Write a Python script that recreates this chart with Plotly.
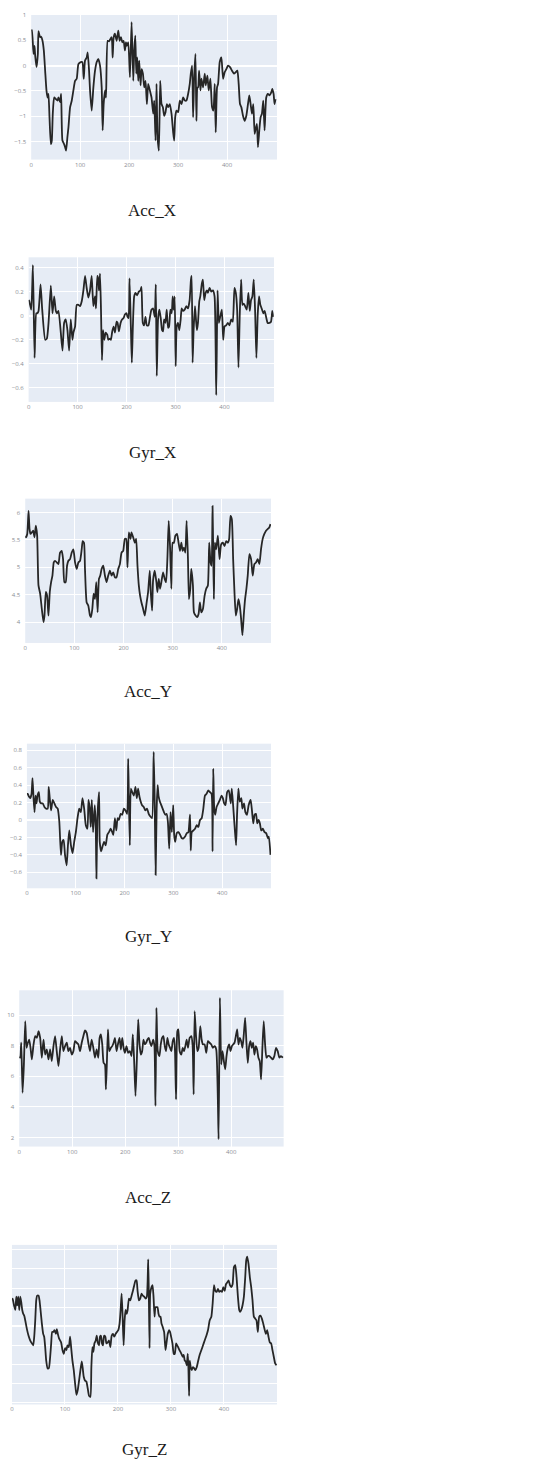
import plotly.graph_objects as go

W, H = 533, 1463

# ---- sensor traces (sample index, value) ----
acc_x_t = [0, 1.4, 4.8, 6.8, 8.1, 10.9, 13.6, 14.9, 18.3, 20.4, 23.1, 25.8, 28.5, 31.2, 33.3, 35.3, 37.4, 40.1, 42.1, 44.1,
           46.9, 50.3, 53.7, 55.7, 59.1, 61.1, 63.8, 67.2, 69.3, 71.3, 74.0, 76.1, 79.5, 82.9, 86.2, 89.6, 93.0, 96.4, 101.2, 104.6,
           107.3, 110.0, 113.4, 115.4, 118.2, 120.2, 123.6, 127.0, 130.4, 133.8, 137.2, 140.6, 144.0, 146.0, 148.0, 150.8, 152.8, 156.2, 158.9, 164.3,
           166.4, 168.4, 171.1, 174.5, 177.9, 180.6, 183.4, 186.1, 188.8, 191.5, 193.5, 195.6, 198.3, 201.7, 205.1, 208.5, 210.5, 212.6, 214.6, 216.6,
           218.7, 220.7, 223.4, 225.5, 228.2, 230.9, 233.6, 236.3, 239.0, 242.4, 245.8, 249.2, 251.3, 254.0, 256.0, 258.1, 260.8, 263.5, 266.2, 268.9,
           271.6, 274.4, 277.1, 279.8, 283.2, 286.6, 290.0, 292.0, 294.1, 296.8, 300.2, 303.6, 307.0, 310.4, 313.8, 317.1, 320.5, 323.9, 326.0, 328.7,
           330.7, 332.8, 335.5, 337.5, 339.6, 340.9, 343.0, 345.7, 347.7, 351.1, 354.5, 356.5, 359.9, 362.6, 366.0, 369.4, 372.2, 374.9, 376.9, 379.6,
           381.7, 385.1, 388.5, 391.9, 395.2, 398.6, 402.0, 406.1, 410.2, 414.3, 417.7, 421.1, 423.8, 426.5, 429.2, 432.6, 436.0, 439.4, 442.8, 445.5,
           448.2, 450.9, 453.7, 456.4, 459.1, 461.1, 463.2, 465.9, 468.6, 471.3, 474.0, 476.7, 480.1, 483.5, 486.9, 490.3, 492.4, 495.1, 497.1, 499]
acc_x_v = [0.69, 0.70, 0.23, 0.39, 0.20, -0.03, 0.23, 0.68, 0.56, 0.57, 0.49, 0.30, -0.10, -0.49, -0.63, -0.56, -1.02, -1.55, -1.48, -0.95,
           -0.63, -0.66, -0.69, -0.63, -0.72, -0.56, -1.48, -1.55, -1.61, -1.68, -1.41, -1.22, -0.82, -0.69, -0.49, -0.30, -0.26, 0.03, 0.07, 0.07,
           -0.26, 0.10, 0.16, 0.26, -0.10, -0.49, -0.89, -0.43, -0.10, 0.07, 0.13, 0.00, -0.43, -1.28, -0.76, -0.49, -0.63, 0.49, 0.48, 0.56,
           0.16, 0.56, 0.63, 0.49, 0.69, 0.49, 0.56, 0.46, 0.49, 0.30, 0.46, 0.39, 0.46, -0.23, 0.86, -0.30, 0.30, 0.59, -0.16, 0.16,
           -0.30, 0.10, -0.39, -0.07, -0.16, -0.43, -0.30, -0.76, -0.36, -0.49, -0.63, -0.95, -0.69, -1.48, -0.36, -1.41, -1.68, -0.30, -0.76, -0.82,
           -0.99, -0.92, -0.76, -0.82, -0.76, -0.95, -1.32, -1.48, -1.02, -0.89, -0.92, -0.69, -0.76, -0.63, -0.69, -0.69, -0.56, -0.36, -0.16, 0.00,
           -1.02, -0.26, 0.23, -1.09, -0.43, -0.43, -0.10, -0.49, -0.26, -0.43, -0.16, -0.39, -0.20, -0.49, -0.26, -0.82, -0.89, -0.36, -1.32, -0.43,
           -0.36, 0.07, 0.16, -0.26, -0.13, -0.07, 0.00, -0.03, -0.10, -0.16, -0.13, -0.10, -0.36, -0.76, -0.82, -0.99, -1.09, -0.99, -0.76, -0.59,
           -0.76, -0.95, -0.76, -1.35, -1.22, -1.15, -1.61, -1.28, -1.02, -0.95, -0.69, -1.28, -0.63, -0.56, -0.59, -0.53, -0.46, -0.56, -0.76, -0.66]

gyr_x_t = [0, 1.4, 5.4, 8.8, 12.2, 15.6, 17.6, 20.3, 24.4, 27.8, 33.9, 37.3, 40.7, 45.4, 48.8, 52.2, 55.6, 57.6, 61.0, 69.2,
           72.5, 75.9, 79.3, 82.7, 86.1, 89.5, 91.5, 94.9, 98.3, 101.7, 105.1, 108.5, 111.9, 115.3, 118.6, 122.0, 125.4, 128.8, 132.2, 135.6,
           137.6, 140.3, 142.4, 143.7, 145.8, 147.8, 149.8, 151.9, 154.6, 157.3, 160.7, 162.7, 166.1, 168.1, 170.8, 173.6, 176.3, 179.7, 181.7, 184.4,
           187.8, 191.2, 193.9, 196.6, 200.0, 202.0, 204.1, 206.1, 208.8, 210.8, 212.9, 215.6, 218.3, 221.7, 225.1, 228.5, 230.5, 233.2, 235.9, 238.6,
           241.4, 244.7, 247.5, 250.8, 254.2, 257.6, 259.7, 261.7, 264.4, 267.1, 269.8, 272.5, 274.6, 276.6, 279.3, 282.0, 284.7, 286.8, 289.5, 292.2,
           294.2, 296.3, 298.3, 300.3, 302.4, 305.1, 307.8, 310.5, 312.5, 315.3, 318.6, 322.0, 325.4, 328.8, 331.5, 332.9, 334.9, 336.9, 339.7, 341.7,
           343.7, 345.8, 348.5, 350.5, 353.9, 355.9, 358.6, 361.4, 364.1, 366.1, 369.5, 372.9, 376.3, 379.7, 383.1, 385.8, 388.5, 391.2, 394.6, 397.3,
           400.0, 403.4, 406.8, 410.2, 413.6, 416.9, 420.3, 423.1, 425.8, 428.5, 431.2, 433.9, 436.6, 439.3, 442.0, 445.4, 448.8, 451.5, 454.2, 456.9,
           459.7, 462.4, 465.1, 467.8, 470.5, 473.2, 475.9, 479.3, 482.0, 485.4, 488.1, 491.5, 494.9, 497.6, 499]
gyr_x_v = [0.13, 0.12, 0.05, 0.42, -0.35, 0.02, 0.02, 0.04, 0.26, 0.05, -0.20, -0.19, -0.06, 0.25, 0.02, 0.16, 0.04, 0.02, 0.04, -0.29,
           -0.06, -0.03, -0.12, -0.29, -0.03, -0.20, -0.14, -0.09, 0.09, 0.09, 0.08, 0.12, 0.21, 0.33, 0.23, 0.15, 0.21, 0.33, 0.08, 0.16,
           0.06, 0.33, 0.30, 0.21, 0.35, 0.05, -0.37, -0.12, -0.20, -0.14, -0.16, -0.20, -0.19, -0.20, -0.13, -0.09, -0.14, -0.05, -0.06, -0.13,
           -0.06, -0.03, -0.02, 0.01, 0.02, -0.01, -0.02, 0.31, -0.09, -0.39, -0.09, 0.16, 0.19, 0.17, 0.20, 0.21, 0.24, -0.06, -0.08, -0.01,
           -0.08, -0.08, -0.02, 0.05, 0.06, -0.01, 0.26, -0.50, -0.02, 0.05, -0.02, -0.12, -0.13, -0.03, -0.06, 0.05, -0.10, -0.09, 0.05, 0.02,
           0.16, 0.05, 0.16, -0.42, -0.09, -0.06, -0.12, -0.03, 0.06, 0.04, 0.05, 0.08, 0.06, 0.13, 0.30, 0.33, -0.39, -0.12, 0.08, -0.03,
           -0.12, -0.06, 0.12, 0.16, 0.27, 0.30, 0.13, 0.19, 0.21, 0.19, 0.23, 0.20, 0.21, 0.16, -0.66, 0.21, -0.06, -0.01, 0.05, -0.20,
           -0.09, -0.08, -0.06, -0.08, -0.03, -0.05, 0.23, 0.19, 0.05, -0.43, 0.02, 0.30, 0.09, 0.10, 0.08, 0.05, 0.19, 0.04, 0.13, 0.16,
           0.30, 0.05, -0.35, 0.01, 0.16, 0.09, 0.06, 0.02, 0.04, -0.02, -0.06, -0.06, -0.05, 0.04, -0.01]

acc_y_t = [0, 1.4, 4.1, 6.8, 8.8, 10.8, 13.5, 16.2, 18.9, 21.6, 24.3, 27.0, 30.4, 33.8, 37.2, 39.2, 41.9, 44.6, 47.3, 50.0,
           52.7, 55.4, 58.1, 60.8, 64.2, 67.6, 70.9, 74.3, 77.0, 79.7, 82.4, 85.1, 87.8, 91.2, 94.6, 98.0, 101.4, 104.7, 108.1, 111.5,
           114.9, 116.9, 119.6, 121.6, 125.0, 128.4, 131.8, 133.8, 136.5, 139.2, 141.9, 144.6, 147.3, 150.0, 152.7, 155.4, 158.8, 162.2, 165.5, 168.9,
           172.3, 175.7, 179.1, 182.4, 185.8, 189.2, 192.6, 196.0, 199.3, 202.7, 205.4, 208.1, 210.8, 214.2, 216.2, 219.6, 223.0, 225.7, 228.4, 231.1,
           233.8, 236.5, 239.9, 243.2, 246.6, 250.0, 253.4, 255.4, 258.1, 260.1, 263.5, 266.9, 268.9, 271.6, 274.3, 277.0, 280.4, 283.8, 286.5, 289.2,
           291.9, 294.6, 297.3, 300.0, 302.7, 305.4, 308.8, 311.5, 314.9, 317.6, 320.3, 323.0, 325.7, 328.4, 331.1, 333.1, 335.8, 337.8, 341.2, 343.2,
           346.6, 350.0, 352.7, 355.4, 358.1, 361.5, 364.9, 368.2, 371.6, 374.3, 377.0, 379.1, 381.1, 382.4, 383.8, 385.8, 388.5, 391.9, 395.3, 398.6,
           402.0, 405.4, 408.8, 412.2, 414.9, 417.6, 420.3, 423.0, 425.7, 428.4, 431.1, 433.8, 436.5, 439.2, 441.9, 444.6, 447.3, 450.0, 452.7, 456.1,
           459.5, 462.8, 466.2, 469.6, 473.0, 476.4, 479.7, 483.1, 486.5, 489.9, 493.2, 496.6, 499]
acc_y_v = [5.57, 5.55, 5.61, 6.03, 5.70, 5.61, 5.64, 5.67, 5.55, 5.76, 5.58, 4.67, 4.52, 4.24, 4.00, 4.12, 4.55, 4.48, 4.12, 4.55,
           4.73, 4.85, 5.09, 5.12, 5.09, 5.06, 5.27, 5.30, 5.15, 4.73, 4.73, 5.03, 5.12, 5.15, 5.27, 5.33, 5.09, 4.97, 5.09, 5.12,
           5.33, 5.48, 5.45, 4.97, 4.36, 4.30, 4.12, 4.09, 4.24, 4.52, 4.42, 4.73, 4.18, 4.79, 4.85, 4.97, 5.03, 4.85, 4.73, 4.85,
           4.94, 4.85, 4.91, 4.82, 4.82, 4.97, 5.06, 5.27, 5.30, 5.52, 5.52, 5.00, 5.64, 5.52, 5.64, 5.55, 5.45, 5.52, 5.03, 4.67,
           4.48, 4.36, 4.24, 4.12, 4.33, 4.55, 4.94, 4.55, 4.21, 4.76, 4.94, 4.73, 4.55, 4.79, 4.61, 4.73, 4.91, 4.79, 4.73, 5.15,
           5.85, 5.39, 4.61, 5.45, 5.45, 5.58, 5.61, 5.48, 5.30, 5.45, 5.30, 5.36, 5.27, 5.85, 5.15, 4.42, 4.61, 4.97, 4.67, 4.18,
           4.12, 4.09, 4.15, 4.36, 4.18, 4.24, 4.48, 4.61, 4.67, 5.45, 5.09, 5.03, 6.12, 5.33, 4.42, 5.45, 5.33, 5.58, 5.15, 5.42,
           5.45, 5.39, 5.48, 5.45, 5.52, 5.94, 5.88, 5.15, 4.55, 4.12, 4.24, 4.42, 4.30, 4.06, 3.76, 4.12, 4.42, 4.61, 4.85, 5.24,
           5.15, 4.85, 5.06, 5.09, 5.15, 5.06, 5.33, 5.52, 5.61, 5.67, 5.70, 5.73, 5.79]

gyr_y_t = [0, 1.4, 4.1, 6.8, 9.5, 11.5, 13.6, 15.6, 17.6, 19.7, 21.7, 24.4, 26.4, 29.2, 32.5, 35.9, 39.3, 42.7, 44.7, 46.8,
           49.5, 52.9, 56.3, 59.7, 63.1, 66.4, 69.8, 72.5, 75.3, 78.0, 81.4, 84.1, 86.8, 90.2, 93.6, 96.9, 100.3, 103.7, 107.1, 110.5,
           113.9, 117.3, 120.7, 124.1, 126.1, 128.8, 130.8, 132.9, 135.6, 139.0, 141.0, 142.4, 144.4, 147.8, 149.2, 151.9, 154.6, 158.0, 161.4, 164.7,
           168.1, 171.5, 174.9, 177.0, 180.3, 183.1, 185.8, 188.5, 191.9, 195.3, 198.6, 202.0, 205.4, 207.5, 208.8, 210.8, 212.9, 215.6, 219.0, 222.4,
           225.1, 227.8, 230.5, 233.2, 235.9, 239.3, 242.7, 246.1, 249.5, 252.9, 256.3, 259.7, 261.7, 263.7, 265.8, 267.8, 269.8, 272.5, 275.3, 278.0,
           280.7, 283.4, 286.1, 288.8, 291.5, 294.2, 296.9, 299.7, 301.7, 303.7, 307.1, 310.5, 313.9, 317.3, 320.7, 324.1, 327.5, 330.8, 332.9, 334.2,
           335.6, 337.6, 341.0, 344.4, 347.8, 351.2, 354.6, 358.0, 361.4, 364.7, 368.1, 371.5, 374.9, 378.3, 380.3, 381.7, 383.7, 385.8, 388.5, 391.9,
           395.3, 398.6, 401.4, 404.1, 406.8, 410.2, 413.6, 417.6, 419.7, 422.4, 425.8, 428.5, 430.5, 433.2, 436.0, 439.3, 441.4, 444.7, 447.5, 450.8,
           454.2, 458.3, 461.0, 463.7, 466.4, 469.2, 471.9, 474.6, 477.3, 480.0, 483.4, 486.8, 490.2, 493.6, 495.6, 499]
gyr_y_v = [0.30, 0.30, 0.27, 0.25, 0.30, 0.48, 0.25, 0.09, 0.28, 0.19, 0.28, 0.32, 0.21, 0.19, 0.19, 0.15, 0.13, 0.13, 0.38, 0.25,
           0.11, 0.23, 0.19, 0.15, 0.13, -0.02, -0.40, -0.25, -0.23, -0.40, -0.52, -0.29, -0.12, -0.29, -0.38, -0.25, -0.14, 0.02, 0.13, 0.09,
           0.25, 0.13, -0.06, -0.10, 0.23, 0.13, -0.08, 0.23, -0.14, 0.17, -0.06, -0.67, 0.02, 0.32, -0.25, -0.36, -0.31, -0.25, -0.29, -0.17,
           -0.14, -0.10, -0.14, -0.17, 0.02, -0.12, 0.02, 0.00, 0.07, 0.06, 0.13, 0.11, 0.07, 0.70, 0.28, -0.29, 0.36, 0.32, 0.28, 0.38,
           0.25, 0.36, 0.27, 0.21, 0.17, 0.15, 0.11, 0.13, 0.07, 0.04, 0.02, 0.78, 0.25, -0.63, 0.13, 0.40, 0.27, 0.21, 0.17, 0.13,
           0.09, 0.06, 0.07, -0.02, -0.33, 0.09, -0.14, 0.17, -0.17, -0.25, -0.15, -0.14, -0.17, -0.21, -0.21, -0.19, -0.15, -0.14, -0.02, 0.06,
           -0.35, -0.14, -0.12, -0.10, -0.06, -0.08, 0.00, 0.02, 0.13, 0.28, 0.30, 0.34, 0.32, 0.30, -0.36, 0.59, 0.13, 0.06, 0.15, 0.19,
           0.23, 0.28, 0.25, 0.19, 0.17, 0.32, 0.34, 0.19, 0.36, 0.17, -0.10, -0.29, 0.06, 0.36, 0.21, 0.25, 0.13, 0.19, 0.09, 0.06,
           0.17, 0.23, 0.11, -0.04, 0.06, 0.07, -0.04, 0.00, -0.04, -0.12, -0.10, -0.14, -0.15, -0.21, -0.19, -0.40]

acc_z_t = [0, 1.9, 3.8, 6.3, 8.8, 11.3, 13.8, 16.3, 18.8, 21.3, 23.8, 27.0, 30.1, 33.2, 36.4, 39.5, 42.6, 45.8, 48.9, 52.0,
           55.2, 58.3, 61.4, 64.6, 67.7, 70.8, 74.0, 77.1, 80.3, 83.4, 86.5, 89.7, 92.8, 95.9, 99.1, 102.2, 105.3, 108.5, 111.6, 114.7,
           117.9, 121.0, 124.1, 127.3, 130.4, 133.5, 136.7, 139.8, 142.9, 146.1, 149.2, 151.7, 154.2, 156.7, 159.2, 161.8, 163.6, 165.5, 167.4, 169.9,
           173.0, 175.5, 178.1, 180.6, 183.7, 186.8, 189.3, 191.8, 194.4, 196.9, 199.4, 202.5, 205.6, 208.8, 211.9, 214.4, 216.9, 219.4, 221.9, 224.5,
           227.0, 229.5, 232.0, 234.5, 237.0, 239.5, 242.0, 244.5, 247.0, 249.5, 252.7, 255.2, 257.1, 258.9, 261.4, 264.6, 267.1, 269.6, 272.1, 274.6,
           277.1, 279.6, 282.1, 284.6, 287.1, 289.7, 292.2, 294.0, 295.9, 298.4, 300.3, 302.8, 306.0, 308.5, 311.0, 313.5, 316.0, 318.5, 321.6, 324.8,
           327.3, 329.2, 331.0, 333.5, 336.1, 338.6, 341.7, 344.2, 346.7, 349.8, 353.0, 356.1, 359.2, 362.4, 365.5, 368.7, 371.8, 374.9, 376.2, 378.7,
           381.2, 383.7, 386.2, 388.7, 391.2, 393.7, 396.2, 398.7, 401.3, 403.8, 406.3, 408.8, 411.3, 413.8, 416.3, 418.8, 421.3, 423.8, 426.3, 428.8,
           431.3, 433.9, 436.4, 438.9, 441.4, 443.9, 446.4, 448.9, 451.4, 453.9, 456.4, 458.9, 461.4, 464.0, 466.5, 469.0, 472.1, 475.2, 478.4, 481.5,
           484.6, 487.8, 490.9, 494.0, 497.8]
acc_z_v = [7.30, 7.22, 8.20, 4.93, 6.78, 9.61, 7.87, 8.20, 8.41, 7.87, 7.11, 8.09, 8.63, 8.52, 8.96, 8.52, 7.22, 8.41, 7.43, 7.76,
           7.11, 7.76, 7.00, 7.98, 8.63, 7.65, 6.67, 7.76, 8.63, 7.65, 7.98, 8.20, 7.65, 7.87, 7.43, 7.65, 8.30, 8.20, 8.09, 7.65,
           8.20, 8.63, 9.00, 8.85, 8.20, 7.65, 8.41, 7.87, 7.22, 7.76, 7.22, 8.52, 8.74, 8.09, 6.89, 6.78, 5.15, 7.00, 9.07, 7.65,
           7.87, 7.98, 8.20, 8.52, 7.65, 8.20, 8.52, 7.76, 8.52, 7.87, 7.54, 7.98, 7.54, 7.65, 7.33, 8.74, 7.00, 4.72, 7.00, 9.72,
           8.09, 7.43, 7.65, 8.41, 8.09, 8.20, 8.41, 8.52, 8.20, 7.98, 8.41, 7.98, 4.07, 10.48, 7.65, 7.33, 8.09, 8.52, 8.63, 7.98,
           7.65, 8.52, 8.09, 7.87, 7.65, 8.30, 8.52, 7.65, 4.50, 8.96, 9.07, 7.65, 7.43, 7.87, 7.65, 7.98, 8.41, 7.87, 8.52, 8.63,
           7.98, 4.83, 10.26, 8.74, 7.65, 7.87, 9.28, 8.41, 8.09, 8.09, 7.54, 8.30, 8.20, 8.09, 7.87, 7.98, 7.76, 4.39, 1.89, 11.13,
           6.78, 7.65, 7.00, 6.46, 7.33, 7.87, 8.09, 7.65, 7.98, 8.09, 8.20, 8.63, 9.07, 8.09, 8.52, 8.30, 7.87, 8.74, 9.83, 8.20,
           6.89, 7.98, 8.30, 7.87, 8.20, 7.43, 7.98, 7.76, 7.22, 7.00, 5.80, 7.87, 9.61, 8.09, 7.22, 7.33, 7.33, 7.22, 7.11, 7.33,
           7.87, 7.65, 7.22, 7.33, 7.22]

gyr_z_t = [0, 1.3, 3.8, 6.3, 8.2, 10.0, 11.9, 13.8, 15.7, 17.6, 19.4, 21.3, 23.2, 25.1, 28.2, 31.3, 34.5, 37.6, 40.1, 42.0,
           43.9, 45.8, 47.6, 50.2, 52.0, 53.9, 56.4, 58.9, 60.8, 62.7, 64.6, 67.1, 69.6, 72.1, 74.0, 75.9, 78.4, 80.3, 82.8, 84.6,
           86.5, 89.0, 90.9, 92.8, 95.3, 97.8, 100.3, 102.8, 104.7, 107.2, 109.7, 111.6, 114.1, 116.6, 119.1, 121.6, 124.1, 126.6, 129.2, 131.7,
           133.5, 135.4, 137.9, 140.4, 142.9, 145.5, 148.0, 149.8, 151.7, 153.6, 155.5, 158.0, 159.9, 161.8, 164.3, 166.1, 168.0, 169.9, 171.8, 173.7,
           176.2, 178.1, 180.6, 183.1, 185.6, 188.1, 190.6, 193.1, 195.6, 198.1, 200.6, 203.1, 205.0, 206.9, 208.8, 210.7, 212.5, 214.4, 216.3, 218.2,
           220.7, 223.2, 225.7, 228.2, 230.7, 233.2, 235.1, 237.0, 239.5, 242.0, 244.5, 247.0, 249.5, 252.0, 254.5, 257.1, 258.3, 259.6, 260.8, 263.3,
           265.2, 267.1, 269.0, 270.8, 272.7, 274.6, 276.5, 278.4, 280.3, 282.1, 284.6, 287.1, 289.7, 291.5, 294.0, 296.6, 298.4, 300.3, 302.8, 305.3,
           307.2, 309.7, 311.6, 313.5, 316.0, 317.9, 319.7, 322.3, 324.1, 326.0, 327.9, 329.8, 331.7, 332.9, 334.2, 335.4, 337.3, 339.2, 341.1, 343.6,
           346.1, 348.6, 351.1, 354.2, 357.4, 360.5, 363.6, 366.8, 369.9, 373.0, 376.2, 378.7, 381.2, 383.7, 386.2, 388.7, 391.2, 393.7, 396.2, 398.7,
           401.3, 403.8, 406.3, 408.8, 411.3, 413.8, 416.3, 418.8, 421.3, 423.8, 426.3, 428.8, 430.7, 432.6, 435.1, 437.6, 440.1, 442.0, 443.9, 446.4,
           448.9, 451.4, 453.9, 456.4, 458.9, 461.4, 463.9, 466.5, 469.0, 471.5, 474.0, 476.5, 479.0, 481.5, 484.0, 486.5, 489.0, 491.5, 494.0, 496.6,
           499]
gyr_z_v = [0.27, 0.29, 0.22, 0.17, 0.31, 0.22, 0.31, 0.17, 0.31, 0.25, 0.17, 0.13, 0.11, 0.06, -0.03, -0.10, -0.15, -0.18, -0.20, -0.11,
           0.06, 0.27, 0.32, 0.32, 0.27, 0.17, 0.03, -0.08, -0.11, -0.22, -0.36, -0.44, -0.44, -0.32, -0.18, -0.06, -0.06, -0.04, -0.08, -0.03,
           -0.08, -0.13, -0.15, -0.17, -0.25, -0.29, -0.23, -0.25, -0.20, -0.22, -0.11, -0.22, -0.36, -0.46, -0.60, -0.72, -0.67, -0.57, -0.46, -0.37,
           -0.44, -0.53, -0.57, -0.58, -0.65, -0.73, -0.74, -0.43, -0.22, -0.27, -0.18, -0.15, -0.10, -0.17, -0.20, -0.11, -0.10, -0.18, -0.20, -0.10,
           -0.11, -0.18, -0.17, -0.15, -0.22, -0.10, -0.08, -0.11, -0.08, -0.06, -0.04, 0.03, 0.17, 0.34, 0.10, -0.20, 0.06, 0.17, 0.13, 0.17,
           0.29, 0.27, 0.32, 0.37, 0.43, 0.48, 0.48, 0.37, 0.27, 0.29, 0.34, 0.32, 0.31, 0.29, 0.31, 0.70, 0.31, -0.23, 0.34, 0.41,
           0.43, 0.31, 0.10, 0.20, 0.20, 0.20, 0.13, 0.10, 0.10, 0.03, -0.01, -0.06, -0.25, -0.18, -0.08, -0.04, -0.06, -0.11, -0.18, -0.29,
           -0.29, -0.18, -0.20, -0.22, -0.25, -0.27, -0.29, -0.32, -0.30, -0.36, -0.37, -0.41, -0.29, -0.43, -0.73, -0.36, -0.43, -0.46, -0.43, -0.44,
           -0.46, -0.43, -0.37, -0.30, -0.25, -0.20, -0.15, -0.10, -0.04, 0.06, 0.10, 0.24, 0.43, 0.37, 0.36, 0.39, 0.36, 0.37, 0.36, 0.41,
           0.37, 0.44, 0.46, 0.48, 0.43, 0.41, 0.44, 0.62, 0.64, 0.51, 0.31, 0.17, 0.15, 0.17, 0.22, 0.31, 0.51, 0.69, 0.73, 0.65,
           0.51, 0.41, 0.27, 0.10, 0.08, 0.06, -0.06, 0.10, 0.11, 0.08, 0.03, -0.03, -0.08, -0.04, -0.11, -0.17, -0.18, -0.25, -0.32, -0.39,
           -0.41]

# ---- captions and axis ticks ----
titles = ["Acc_X", "Gyr_X", "Acc_Y", "Gyr_Y", "Acc_Z", "Gyr_Z"]
x_ticks = [0, 100, 200, 300, 400]
y_ticks = [
    [-1.5, -1, -0.5, 0, 0.5, 1],
    [-0.6, -0.4, -0.2, 0, 0.2, 0.4],
    [4, 4.5, 5, 5.5, 6],
    [-0.6, -0.4, -0.2, 0, 0.2, 0.4, 0.6, 0.8],
    [2, 4, 6, 8, 10],
    [-0.8, -0.6, -0.4, -0.2, 0, 0.2, 0.4, 0.6, 0.8],
]
y_ranges = [[-1.856, 1.0], [-0.716, 0.485], [3.62, 6.255], [-0.783, 0.875], [1.41, 11.63], [-0.82, 0.852]]
x_ranges = [[0, 502], [0, 501], [0, 500], [0, 500], [0, 499], [0, 500]]

series = [(acc_x_t, acc_x_v), (gyr_x_t, gyr_x_v), (acc_y_t, acc_y_v),
          (gyr_y_t, gyr_y_v), (acc_z_t, acc_z_v), (gyr_z_t, gyr_z_v)]

# panel boxes in page pixels: left, right, top, bottom
boxes = [(29.3, 276, 11, 156), (26.7, 273, 254, 399), (23.3, 270, 496, 640.7),
         (25, 270, 741.7, 886.7), (17.3, 282.7, 989, 1145.7), (10, 276, 1244.3, 1404.3)]
# caption centres in page pixels
caption_xy = [(150.5, 207), (151.5, 450), (147, 689.5), (147, 935.5), (147, 1197), (143.3, 1449)]

fig = go.Figure()
layout = dict(
    width=W, height=H,
    margin=dict(l=0, r=0, t=0, b=0),
    paper_bgcolor="white",
    plot_bgcolor="#e6ecf5",
    showlegend=False,
    annotations=[],
)

tick_font = dict(family="Open Sans, Arial, sans-serif", size=6, color="#8a8d94")

for i, ((t, v), (l, r, top, bot)) in enumerate(zip(series, boxes)):
    n = "" if i == 0 else str(i + 1)
    fig.add_trace(go.Scatter(
        x=t, y=v, mode="lines",
        line=dict(color="#262626", width=1.8, shape="spline", smoothing=0.5),
        xaxis="x" + n, yaxis="y" + n,
    ))
    layout["xaxis" + n] = dict(
        domain=[l / W, r / W], range=x_ranges[i], anchor="y" + n,
        tickvals=x_ticks, tickfont=tick_font,
        showgrid=True, gridcolor="white", gridwidth=1,
        zeroline=False, showline=False, ticks="",
    )
    layout["yaxis" + n] = dict(
        domain=[1 - bot / H, 1 - top / H], range=y_ranges[i], anchor="x" + n,
        tickvals=y_ticks[i], tickfont=tick_font,
        showticklabels=(i != 5),
        showgrid=True, gridcolor="white", gridwidth=1,
        zeroline=True, zerolinecolor="white", zerolinewidth=1.5,
        showline=False, ticks="", ticklabelstandoff=4,
    )
    cx, cy = caption_xy[i]
    layout["annotations"].append(dict(
        text=titles[i], x=cx / W, y=1 - cy / H, xref="paper", yref="paper",
        xanchor="center", yanchor="middle", showarrow=False,
        font=dict(family="Liberation Serif, serif", size=17, color="#1a1a1a"),
    ))

fig.update_layout(**layout)
fig.write_html("out.html")
